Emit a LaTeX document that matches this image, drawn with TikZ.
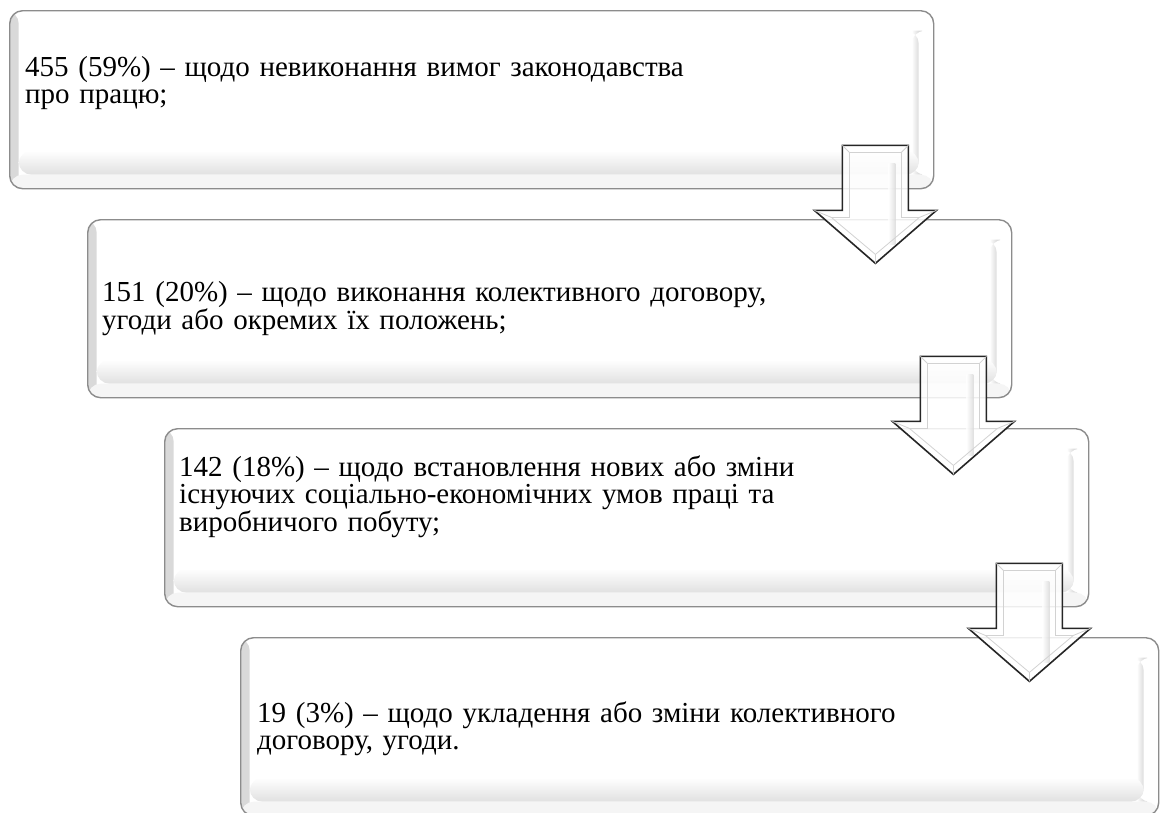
\documentclass[tikz,border=0pt]{standalone}
\usepackage{fontspec}
\setmainfont{Liberation Serif}[Ligatures=TeX]
\newfontfamily\boxfont{Liberation Serif}[Ligatures=TeX]
\begin{document}
\begin{tikzpicture}[x=1pt,y=-1pt,
  softbox/.style={draw=gray!90, line width=1.4pt, fill=white,
    rounded corners=13pt, minimum width=#1, minimum height=178pt,
    inner sep=0pt, anchor=north west,
    path picture={
      % left bevel
      \shade[left color=gray!30, right color=white]
        (path picture bounding box.north west) rectangle
        ([xshift=9pt]path picture bounding box.south west);
      % right bevel stripe
      \shade[left color=white, right color=gray!28]
        ([xshift=-22pt,yshift=-20pt]path picture bounding box.north east) rectangle
        ([xshift=-15pt,yshift=14pt]path picture bounding box.south east);
      % bottom bevel
      \shade[top color=white, bottom color=gray!24]
        ([xshift=9pt,yshift=38pt]path picture bounding box.south west) rectangle
        ([xshift=-15pt,yshift=14pt]path picture bounding box.south east);
      \fill[gray!8]
        ([yshift=14pt]path picture bounding box.south west) rectangle
        (path picture bounding box.south east);
    }},
  softbox/.default=924pt,
  textblock/.style={anchor=north west, inner sep=0pt, align=left,
    text width=700pt, font={\boxfont\fontsize{29}{27}\selectfont}},
  arrowbody/.style={draw=black!85, line width=1.6pt, fill=white,
    fill opacity=0.85, line join=miter},
  bevel/.style={draw=gray!35, line width=0.8pt},
  pics/flowarrow/.style={code={
    \path[arrowbody] (-33,0) -- (33,0) -- (33,65) -- (61,65) -- (0,118)
      -- (-61,65) -- (-33,65) -- cycle;
    \shade[left color=white, right color=gray!30, opacity=0.8]
      (13,18) rectangle (20,99);
    \path[bevel] (-26,7) -- (26,7) -- (26,72) -- (44,72) -- (0,109)
      -- (-44,72) -- (-26,72) -- cycle;
    \path[bevel] (-33,0) -- (-26,7) (33,0) -- (26,7) (0,118) -- (0,109)
      (61,65) -- (44,72) (-61,65) -- (-44,72);
  }}]
\useasboundingbox (0,0) rectangle (1160,812);
\clip (0,0) rectangle (1160,812);
\fill[white] (0,0) rectangle (1160,812);

% stepped boxes
\node[softbox] (b1) at (9,10) {};
\node[softbox] (b2) at (87,219) {};
\node[softbox] (b3) at (164,428) {};
\node[softbox=918pt] (b4) at (240,637) {};

% texts
\node[textblock] (t1) at ([xshift=16pt,yshift=-44pt]b1.north west)
  {\rule{0pt}{22pt}\makebox[700pt][s]{455 (59\%) – щодо невиконання вимог законодавства}\\
   про працю;};
\node[textblock] (t2) at ([xshift=15pt,yshift=-60pt]b2.north west)
  {\rule{0pt}{22pt}\makebox[700pt][s]{151 (20\%) – щодо виконання колективного договору,}\\
   угоди або окремих їх положень;};
\node[textblock] (t3) at ([xshift=15pt,yshift=-26pt]b3.north west)
  {\rule{0pt}{22pt}\makebox[700pt][s]{142 (18\%) – щодо встановлення нових або зміни}\\
   \makebox[700pt][s]{існуючих соціально-економічних умов праці та}\\
   виробничого побуту;};
\node[textblock] (t4) at ([xshift=17pt,yshift=-63pt]b4.north west)
  {\rule{0pt}{22pt}\makebox[700pt][s]{19 (3\%) – щодо укладення або зміни колективного}\\
   договору, угоди.};

% down arrows between the boxes
\pic (a1) at ([xshift=-59pt,yshift=44pt]b1.south east) {flowarrow};
\pic (a2) at ([xshift=-59pt,yshift=42pt]b2.south east) {flowarrow};
\pic (a3) at ([xshift=-60pt,yshift=44pt]b3.south east) {flowarrow};
\end{tikzpicture}
\end{document}
